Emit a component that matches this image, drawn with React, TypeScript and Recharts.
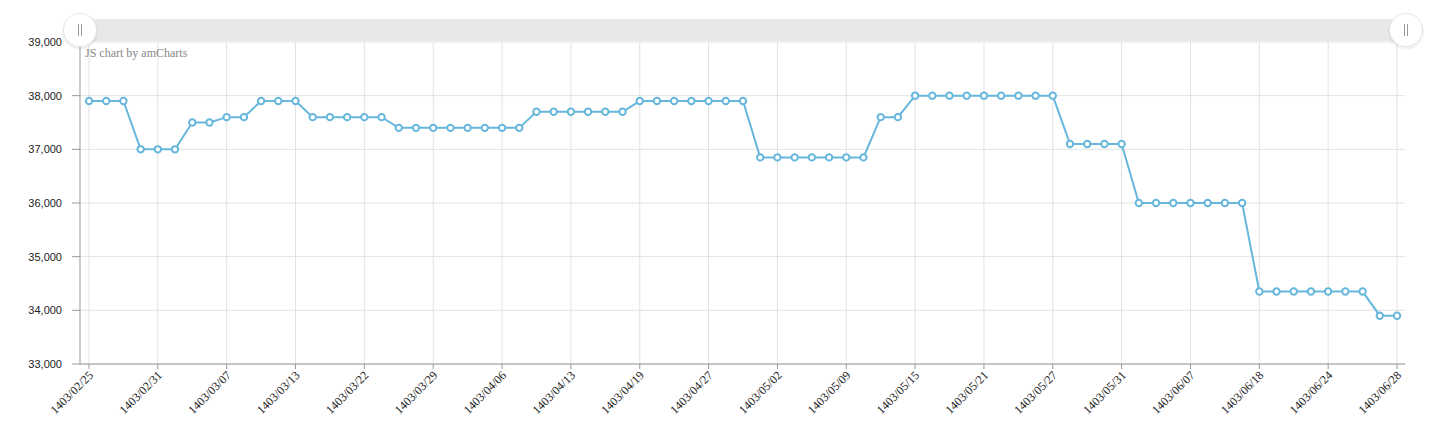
import React from "react";
import {
  LineChart,
  Line,
  XAxis,
  YAxis,
  CartesianGrid,
  ReferenceLine,
} from "recharts";

const dates: string[] = [
  "1403/02/25", "1403/02/26", "1403/02/29", "1403/02/30", "1403/02/31",
  "1403/03/01", "1403/03/02", "1403/03/06", "1403/03/07",
  "1403/03/08", "1403/03/09", "1403/03/12", "1403/03/13",
  "1403/03/16", "1403/03/19", "1403/03/20", "1403/03/22",
  "1403/03/23", "1403/03/26", "1403/03/27", "1403/03/29",
  "1403/03/30", "1403/04/02", "1403/04/03", "1403/04/06",
  "1403/04/09", "1403/04/10", "1403/04/12", "1403/04/13",
  "1403/04/16", "1403/04/17", "1403/04/18", "1403/04/19",
  "1403/04/20", "1403/04/23", "1403/04/24", "1403/04/27",
  "1403/04/30", "1403/04/31", "1403/05/01", "1403/05/02",
  "1403/05/03", "1403/05/06", "1403/05/07", "1403/05/09",
  "1403/05/10", "1403/05/13", "1403/05/14", "1403/05/15",
  "1403/05/16", "1403/05/17", "1403/05/20", "1403/05/21",
  "1403/05/22", "1403/05/23", "1403/05/24", "1403/05/27",
  "1403/05/28", "1403/05/29", "1403/05/30", "1403/05/31",
  "1403/06/03", "1403/06/04", "1403/06/05", "1403/06/07",
  "1403/06/10", "1403/06/11", "1403/06/12", "1403/06/18",
  "1403/06/19", "1403/06/20", "1403/06/21", "1403/06/24",
  "1403/06/25", "1403/06/26", "1403/06/27", "1403/06/28",
];

const prices: number[] = [
  37900, 37900, 37900,
  37000, 37000, 37000,
  37500, 37500,
  37600, 37600,
  37900, 37900, 37900,
  37600, 37600, 37600, 37600, 37600,
  37400, 37400, 37400, 37400, 37400, 37400, 37400, 37400,
  37700, 37700, 37700, 37700, 37700, 37700,
  37900, 37900, 37900, 37900, 37900, 37900, 37900,
  36850, 36850, 36850, 36850, 36850, 36850, 36850,
  37600, 37600,
  38000, 38000, 38000, 38000, 38000, 38000, 38000, 38000, 38000,
  37100, 37100, 37100, 37100,
  36000, 36000, 36000, 36000, 36000, 36000, 36000,
  34350, 34350, 34350, 34350, 34350, 34350, 34350,
  33900, 33900,
];

const yTicks: number[] = [33000, 34000, 35000, 36000, 37000, 38000, 39000];

const data = dates.map((d, i) => ({ date: d, price: prices[i] }));
const tickDates = dates.filter((_, i) => i % 4 === 0);

const LINE = "#67b7dc";
const GRID = "#e2e2e2";
const AXIS = "#999999";

const XTick = (props: any) => {
  const { x, y, payload } = props;
  const tx = x + 5;
  const ty = y + 5;
  return (
    <text
      x={tx}
      y={ty}
      textAnchor="end"
      transform={`rotate(-45, ${tx}, ${ty})`}
      fontFamily="'Liberation Serif', serif"
      fontSize={12}
      fill="#222"
    >
      {payload.value}
    </text>
  );
};

const Grip = ({ cx, cy }: { cx: number; cy: number }) => (
  <g>
    <circle cx={cx} cy={cy + 1.5} r={18} fill="#000" opacity={0.05} />
    <circle cx={cx} cy={cy} r={16.5} fill="#fff" stroke="#e6e6e6" strokeWidth={1} />
    <line x1={cx - 1.5} y1={cy - 6} x2={cx - 1.5} y2={cy + 6} stroke="#999" strokeWidth={1} />
    <line x1={cx + 1.5} y1={cy - 6} x2={cx + 1.5} y2={cy + 6} stroke="#999" strokeWidth={1} />
  </g>
);

export default function App() {
  return (
    <div style={{ position: "relative", width: 1438, height: 440 }}>
      <style>{"body{margin:0}"}</style>
      <LineChart
        width={1438}
        height={440}
        data={data}
        margin={{ top: 42, right: 33, bottom: 16, left: 20 }}
      >
        <CartesianGrid vertical={false} stroke={GRID} />
        {tickDates.map((d) => (
          <ReferenceLine key={d} x={d} stroke={GRID} />
        ))}
        <XAxis
          dataKey="date"
          interval={3}
          height={60}
          padding={{ left: 9, right: 8 }}
          axisLine={{ stroke: AXIS }}
          tickLine={{ stroke: AXIS }}
          tickSize={5}
          tick={<XTick />}
        />
        <YAxis
          domain={[33000, 39000]}
          ticks={yTicks}
          width={60}
          interval={0}
          axisLine={{ stroke: AXIS }}
          tickLine={{ stroke: AXIS }}
          tickSize={8}
          tickMargin={10}
          tickFormatter={(v: number) => v.toLocaleString("en-US")}
          tick={{ fontFamily: "'Liberation Sans', Arial, sans-serif", fontSize: 11, fill: "#222" }}
        />
        <Line
          type="linear"
          dataKey="price"
          stroke={LINE}
          strokeWidth={2}
          dot={{ r: 3.2, fill: "#fff", stroke: LINE, strokeWidth: 2 }}
          activeDot={false}
          isAnimationActive={false}
        />
      </LineChart>
      <svg
        width={1438}
        height={440}
        style={{ position: "absolute", left: 0, top: 0, pointerEvents: "none" }}
      >
        <rect x={80} y={19} width={1325} height={22} fill="#e8e8e8" />
        <text
          x={85}
          y={57}
          fontFamily="'Liberation Serif', serif"
          fontSize={12}
          fill="#888"
        >
          JS chart by amCharts
        </text>
        <Grip cx={80} cy={30} />
        <Grip cx={1406} cy={30} />
      </svg>
    </div>
  );
}
